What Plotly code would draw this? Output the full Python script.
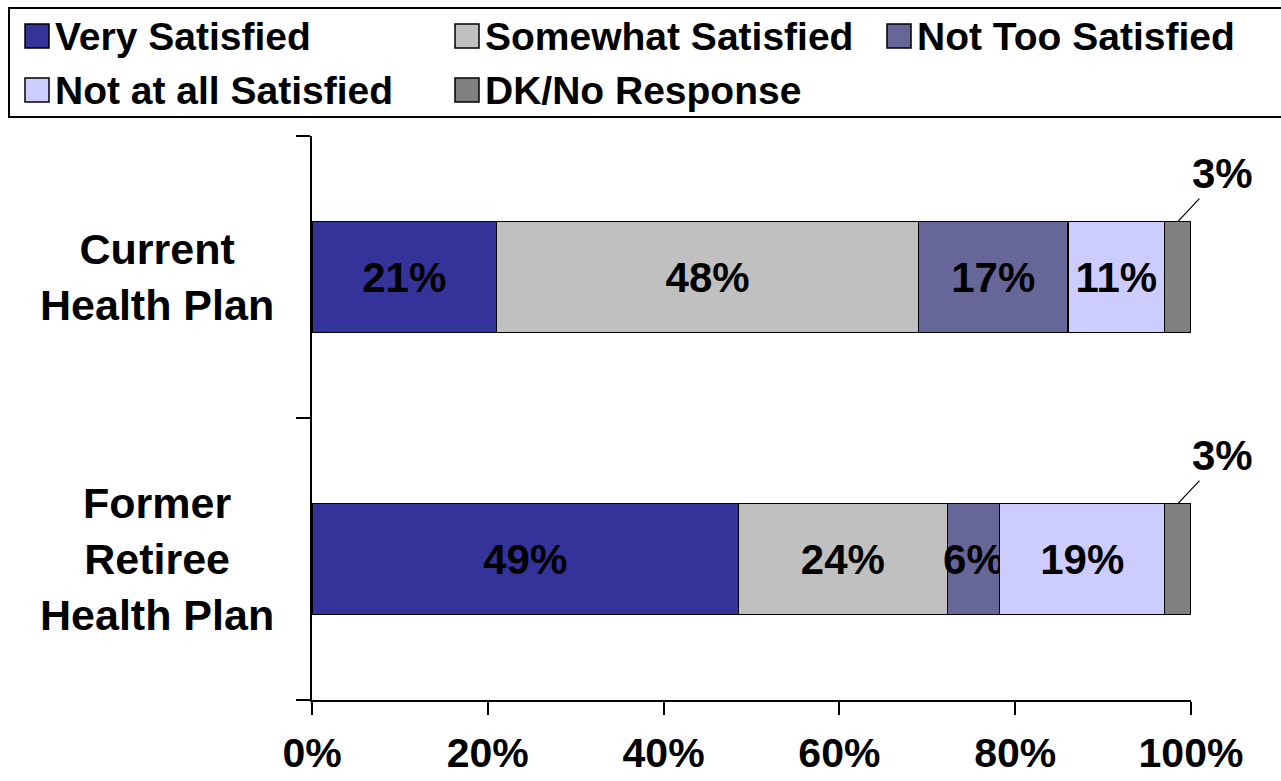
import plotly.graph_objects as go

# ---------------- data ----------------
categories = ["Former Retiree Health Plan", "Current Health Plan"]
category_labels = ["Former<br>Retiree<br>Health Plan", "Current<br>Health Plan"]
series_names = ["Very Satisfied", "Somewhat Satisfied", "Not Too Satisfied",
                "Not at all Satisfied", "DK/No Response"]
very_satisfied = [49, 21]
somewhat_satisfied = [24, 48]
not_too_satisfied = [6, 17]
not_at_all_satisfied = [19, 11]
dk_no_response = [3, 3]
x_tick_values = [0, 20, 40, 60, 80, 100]
x_tick_labels = ["0%", "20%", "40%", "60%", "80%", "100%"]

series_values = [very_satisfied, somewhat_satisfied, not_too_satisfied,
                 not_at_all_satisfied, dk_no_response]
colors = ["#333399", "#C0C0C0", "#666699", "#CCCCFF", "#808080"]

# ---------------- layout geometry ----------------
W, H = 1281, 781
ML, MR, MT, MB = 312, 90, 136, 81
PW, PH = W - ML - MR, H - MT - MB
BAR_W = 0.393
FONT = "Liberation Sans, Arial, sans-serif"


def px2x(px):
    return (px - ML) / PW


def py2y(py):
    return (H - MB - py) / PH


fig = go.Figure()
for i, (name, vals, col) in enumerate(zip(series_names, series_values, colors)):
    is_dk = i == len(series_names) - 1
    fig.add_trace(go.Bar(
        y=categories, x=vals, orientation="h", name=name,
        marker=dict(color=col, line=dict(color="#000000", width=1.2)),
        width=BAR_W,
        text=None if is_dk else [f"{v}%" for v in vals],
        textposition="none" if is_dk else "inside",
        insidetextanchor="middle",
        constraintext="none",
        textangle=0,
        insidetextfont=dict(family=FONT, size=42, color="#000000", weight="bold"),
        showlegend=False,
        hovertemplate="%{y}: " + name + " %{text}<extra></extra>",
    ))

annotations = []
shapes = []

# outside labels for DK/No Response with leader lines
for k, cat in enumerate(categories):
    vals = [s[k] for s in series_values]
    total = sum(vals)
    start = sum(vals[:-1]) / total * 100
    share = vals[-1] / total * 100
    annotations.append(dict(
        x=start + share * 0.5, y=k + BAR_W / 2, xref="x", yref="y",
        text=f"{vals[-1]}%", showarrow=True, arrowhead=0, arrowwidth=1.2,
        arrowcolor="#000000", ax=45, ay=-48,
        font=dict(family=FONT, size=42, color="#000000", weight="bold"),
    ))

# category labels (centered multi-line)
for k, lab in enumerate(category_labels):
    annotations.append(dict(
        x=px2x(157), y=k, xref="paper", yref="y", text=lab, showarrow=False,
        xanchor="center", yanchor="middle", align="center",
        font=dict(family=FONT, size=43, color="#000000", weight="bold"),
    ))

# legend box
shapes.append(dict(type="rect", xref="paper", yref="paper",
                   x0=px2x(9), x1=px2x(1295), y0=py2y(117), y1=py2y(8),
                   line=dict(color="#000000", width=2), fillcolor="rgba(0,0,0,0)"))
col_x = [25, 455, 887]
row_y = [36, 90]
SW = 24
for i, (name, col) in enumerate(zip(series_names, colors)):
    cx = col_x[i % 3]
    cy = row_y[i // 3]
    shapes.append(dict(type="rect", xref="paper", yref="paper",
                       x0=px2x(cx), x1=px2x(cx + SW),
                       y0=py2y(cy + SW / 2), y1=py2y(cy - SW / 2),
                       fillcolor=col, line=dict(color="#000000", width=1.5)))
    annotations.append(dict(
        x=px2x(cx + SW + 4), y=py2y(cy), xref="paper", yref="paper",
        text=name, showarrow=False, xanchor="left", yanchor="middle",
        font=dict(family=FONT, size=39, color="#000000", weight="bold"),
    ))

fig.update_layout(
    width=W, height=H,
    margin=dict(l=ML, r=MR, t=MT, b=MB, pad=0, autoexpand=False),
    barmode="stack", barnorm="percent",
    paper_bgcolor="#FFFFFF", plot_bgcolor="#FFFFFF",
    showlegend=False,
    annotations=annotations, shapes=shapes,
    xaxis=dict(
        range=[0, 100], tickvals=x_tick_values, ticktext=x_tick_labels,
        showline=True, linecolor="#000000", linewidth=2,
        ticks="outside", ticklen=13, tickwidth=2, tickcolor="#000000",
        showgrid=False, zeroline=False, ticklabelstandoff=3,
        automargin=False,
        tickfont=dict(family=FONT, size=41, color="#000000", weight="bold"),
        fixedrange=True,
    ),
    yaxis=dict(
        type="category", categoryorder="array", categoryarray=categories,
        range=[-0.5, 1.5], showline=True, linecolor="#000000", linewidth=2,
        ticks="outside", tickson="boundaries", ticklen=14, tickwidth=2,
        tickcolor="#000000", showticklabels=False, showgrid=False,
        automargin=False, fixedrange=True,
    ),
)

fig.write_html("out.html")
